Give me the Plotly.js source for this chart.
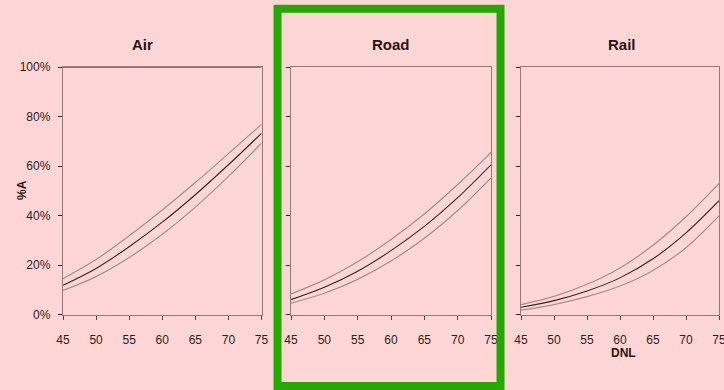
<!DOCTYPE html>
<html>
<head>
<meta charset="utf-8">
<script src="https://cdn.plot.ly/plotly-3.0.1.min.js"></script>
<style>
  html, body { margin: 0; padding: 0; background: rgb(255,214,214); }
  #chart { width: 724px; height: 390px; }
</style>
</head>
<body>
<div id="chart"></div>
<script>
// Day-night level (dB) at which the curves are sampled
const dnl = [45, 50, 55, 60, 65, 70, 75];

// Percentage annoyed (%A): central curve with upper and lower bounds
const airMid   = [11.8, 18.6, 27.4, 37.3, 48.4, 60.5, 73.2];
const airUpper = [14.5, 22.2, 31.8, 42.2, 53.3, 65.0, 76.8];
const airLower = [ 9.7, 15.3, 23.0, 32.4, 43.4, 55.8, 69.2];

const roadMid   = [6.0, 11.0, 17.5, 25.8, 35.6, 47.2, 60.5];
const roadUpper = [8.3, 14.0, 21.3, 30.3, 40.6, 52.5, 65.5];
const roadLower = [4.6,  8.6, 14.2, 21.6, 30.8, 42.0, 55.2];

const railMid   = [2.9, 5.6,  9.5, 14.8, 22.5, 33.0, 46.0];
const railUpper = [4.0, 7.3, 12.2, 18.8, 28.0, 39.5, 53.0];
const railLower = [1.8, 4.0,  7.2, 11.5, 17.8, 27.0, 39.8];

const panelTitles = ['Air', 'Road', 'Rail'];
const yTicks = [0, 20, 40, 60, 80, 100];
const xTicks = [45, 50, 55, 60, 65, 70, 75];

const W = 724, H = 390;
const px = v => v / W;
const py = v => 1 - v / H;

const bg = 'rgb(255,214,214)';
const midColor = '#3b2020';
const boundColor = '#a98c8c';
const frameColor = '#947a7a';
const textColor = '#2e1d1d';

function curve(y, axis, isMid) {
  return {
    x: dnl, y: y, type: 'scatter', mode: 'lines',
    xaxis: 'x' + axis, yaxis: 'y' + axis,
    line: { color: isMid ? midColor : boundColor, width: isMid ? 1.1 : 1.2, shape: 'spline', smoothing: 1 },
    hoverinfo: 'x+y', showlegend: false
  };
}

const groups = [
  [airUpper, airMid, airLower],
  [roadUpper, roadMid, roadLower],
  [railUpper, railMid, railLower]
];
const data = [];
groups.forEach((g, i) => {
  const a = i === 0 ? '' : String(i + 1);
  data.push(curve(g[0], a, false), curve(g[2], a, false), curve(g[1], a, true));
});

const xDomains = [[px(63), px(261.5)], [px(291), px(491)], [px(521), px(719)]];
const yDomain = [py(314.5), py(67)];

const tickFont = { family: 'Liberation Sans, Arial, sans-serif', size: 12, color: textColor };

function xAxis(i) {
  return {
    domain: xDomains[i], range: [45, 75], anchor: i === 0 ? 'y' : 'y' + (i + 1),
    tickmode: 'array', tickvals: xTicks, ticktext: xTicks.map(String),
    ticks: 'outside', ticklen: 4, tickwidth: 1, tickcolor: '#5b4040',
    ticklabelstandoff: 10, ticklabeloverflow: 'allow',
    showline: true, linecolor: frameColor, linewidth: 1.2, mirror: true,
    showgrid: false, zeroline: false, tickfont: tickFont, fixedrange: true
  };
}
function yAxis(i) {
  return {
    domain: yDomain, range: [0, 100], anchor: i === 0 ? 'x' : 'x' + (i + 1),
    tickmode: 'array', tickvals: yTicks,
    ticktext: yTicks.map(v => v + '%'),
    showticklabels: i === 0,
    ticks: 'outside', ticklen: 4, tickwidth: 1, tickcolor: '#3b2020',
    ticklabelstandoff: 5,
    showline: true, linecolor: frameColor, linewidth: 1.2, mirror: true,
    showgrid: false, zeroline: false, tickfont: tickFont, fixedrange: true
  };
}

const titleFont = { family: 'Liberation Sans, Arial, sans-serif', size: 15, color: '#2a1515', weight: 'bold' };
const labelFont = { family: 'Liberation Sans, Arial, sans-serif', size: 12, color: '#2a1515', weight: 'bold' };

const titleX = [142, 391, 622];
const annotations = panelTitles.map((t, i) => ({
  text: '<b>' + t + '</b>', x: px(titleX[i]), y: py(44), xref: 'paper', yref: 'paper',
  xanchor: 'center', yanchor: 'middle', showarrow: false, font: titleFont
}));
annotations.push({
  text: '<b>%A</b>', x: px(22), y: py(190), xref: 'paper', yref: 'paper',
  xanchor: 'center', yanchor: 'middle', textangle: -90, showarrow: false, font: labelFont
});
annotations.push({
  text: '<b>DNL</b>', x: px(623), y: py(353), xref: 'paper', yref: 'paper',
  xanchor: 'center', yanchor: 'middle', showarrow: false, font: labelFont
});

const shapes = [
  // darker top edge of the Air panel at the 100% level
  { type: 'line', xref: 'x domain', yref: 'y', x0: 0, x1: 1, y0: 100, y1: 100,
    line: { color: '#2a1515', width: 1.2 } },
  // green frame around the Road panel
  { type: 'rect', xref: 'paper', yref: 'paper',
    x0: px(277.5), x1: px(500.5), y0: py(386), y1: py(8.7),
    line: { color: '#22aa00', width: 8 }, fillcolor: 'rgba(0,0,0,0)', layer: 'above' }
];

const layout = {
  width: W, height: H,
  margin: { l: 0, r: 0, t: 0, b: 0, pad: 0 },
  paper_bgcolor: bg, plot_bgcolor: bg,
  showlegend: false,
  xaxis: xAxis(0), yaxis: yAxis(0),
  xaxis2: xAxis(1), yaxis2: yAxis(1),
  xaxis3: xAxis(2), yaxis3: yAxis(2),
  annotations: annotations,
  shapes: shapes
};

Plotly.newPlot('chart', data, layout, { displayModeBar: false, staticPlot: true });
</script>
</body>
</html>
